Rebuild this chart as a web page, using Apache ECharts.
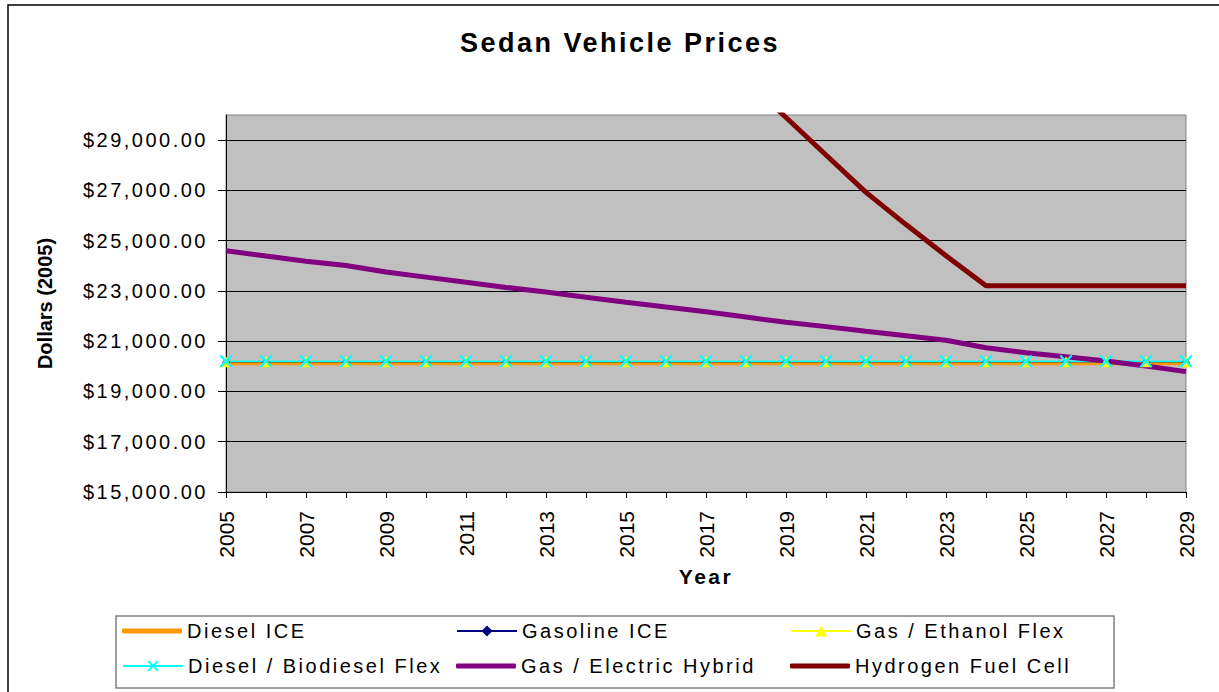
<!DOCTYPE html>
<html>
<head>
<meta charset="utf-8">
<title>Sedan Vehicle Prices</title>
<script src="https://cdn.jsdelivr.net/npm/echarts@6/dist/echarts.min.js"></script>
<style>
  html, body { margin: 0; padding: 0; background: #fff; }
  #chart { width: 1219px; height: 692px; }
  /* excel spreads the horizontal text out a bit, rotated text not */
  #chart text { letter-spacing: 2.5px; }
  #chart text[transform^="matrix"] { letter-spacing: 0; }
</style>
</head>
<body>
<div id="chart"></div>
<script>
const years = ['2005', '2006', '2007', '2008', '2009', '2010', '2011', '2012', '2013', '2014', '2015', '2016',
  '2017', '2018', '2019', '2020', '2021', '2022', '2023', '2024', '2025', '2026', '2027', '2028', '2029']
const yTicks = [15000, 17000, 19000, 21000, 23000, 25000, 27000, 29000]

const dieselIce = [20120, 20120, 20120, 20120, 20120, 20120, 20120, 20120, 20120, 20120, 20120, 20120, 20120,
  20120, 20120, 20120, 20120, 20120, 20120, 20120, 20120, 20120, 20120, 20120, 20120]
const gasolineIce = [20160, 20160, 20160, 20160, 20160, 20160, 20160, 20160, 20160, 20160, 20160, 20160, 20160,
  20160, 20160, 20160, 20160, 20160, 20160, 20160, 20160, 20160, 20160, 20160, 20160]
const ethanolFlex = [20180, 20180, 20180, 20180, 20180, 20180, 20180, 20180, 20180, 20180, 20180, 20180, 20180,
  20180, 20180, 20180, 20180, 20180, 20180, 20180, 20180, 20180, 20180, 20180, 20180]
const biodieselFlex = [20200, 20200, 20200, 20200, 20200, 20200, 20200, 20200, 20200, 20200, 20200, 20200, 20200,
  20200, 20200, 20200, 20200, 20200, 20200, 20200, 20200, 20200, 20200, 20200, 20200]
const electricHybrid = [24600, 24390, 24185, 24010, 23750, 23550, 23345, 23140, 22960, 22750, 22550, 22360, 22175,
  21960, 21750, 21580, 21395, 21220, 21040, 20740, 20540, 20385, 20210, 20010, 19790]
// fuel cell is above the chart top until 2019
const fuelCell = [null, null, null, null, null, null, null, null, null, null, null, null, null,
  31400, 29900, 28410, 26920, 25640, 24400, 23210, 23210, 23210, 23210, 23210, 23210]

const font = 'Liberation Sans, Arial, sans-serif'
const xMark = 'path://M0,1.2 L1.2,0 L5,3.8 L8.8,0 L10,1.2 L6.2,5 L10,8.8 L8.8,10 L5,6.2 L1.2,10 L0,8.8 L3.8,5 Z'

let chart = echarts.init(document.getElementById('chart'), null, { renderer: 'svg' })

const money = (v) => '$' + v.toLocaleString('en-US', { minimumFractionDigits: 2, maximumFractionDigits: 2 })

const series = [
  { name: 'Diesel ICE', data: dieselIce, color: '#ff9900', width: 4, symbol: 'none' },
  { name: 'Gasoline ICE', data: gasolineIce, color: '#000080', width: 1.2, symbol: 'diamond', size: 8 },
  { name: 'Gas / Ethanol Flex', data: ethanolFlex, color: '#ffff00', width: 1.2, symbol: 'triangle', size: 11 },
  { name: 'Diesel / Biodiesel Flex', data: biodieselFlex, color: '#00ffff', width: 1.5, symbol: xMark, size: 13 },
  { name: 'Gas / Electric Hybrid', data: electricHybrid, color: '#800080', width: 5, symbol: 'none' },
  { name: 'Hydrogen Fuel Cell', data: fuelCell, color: '#800000', width: 5, symbol: 'none' }
]

const legendCols = [122, 456, 790]
const legendRows = [621, 656]

let options = {
  animation: false,
  backgroundColor: '#fff',
  title: {
    text: 'Sedan Vehicle Prices',
    left: 615,
    top: 24,
    textAlign: 'center',
    textStyle: { fontFamily: font, fontSize: 27, fontWeight: 'bold', color: '#000' }
  },
  graphic: [
    {
      type: 'rect',
      silent: true,
      shape: { x: 8, y: 5, width: 1300, height: 760 },
      style: { fill: 'none', stroke: '#000', lineWidth: 1.5 }
    },
    {
      type: 'rect',
      silent: true,
      shape: { x: 116, y: 616, width: 998, height: 72 },
      style: { fill: '#fff', stroke: '#808080', lineWidth: 1.5 }
    }
  ],
  legend: series.map((s, i) => {
    const plain = s.symbol === 'none'
    return {
      data: [plain ? { name: s.name, icon: 'roundRect' } : s.name],
      left: legendCols[i % 3],
      top: legendRows[Math.floor(i / 3)],
      padding: 0,
      itemWidth: 60,
      itemHeight: plain ? 5 : 14,
      selectedMode: false,
      textStyle: { fontFamily: font, fontSize: 20, color: '#000' }
    }
  }),
  grid: {
    show: true,
    left: 226,
    right: 33,
    top: 115,
    bottom: 200,
    backgroundColor: '#c0c0c0',
    borderColor: '#808080',
    borderWidth: 1
  },
  xAxis: {
    type: 'category',
    data: years,
    boundaryGap: false,
    name: 'Year',
    nameLocation: 'middle',
    nameGap: 74,
    nameTextStyle: { fontFamily: font, fontSize: 21, fontWeight: 'bold', color: '#000' },
    axisLine: { lineStyle: { color: '#000', width: 1 } },
    axisTick: { show: true, interval: 0, length: 6, lineStyle: { color: '#000' } },
    axisLabel: { interval: 1, rotate: 90, margin: 19, fontFamily: font, fontSize: 21, color: '#000' },
    splitLine: { show: false }
  },
  yAxis: {
    type: 'value',
    min: 15000,
    max: 30000,
    interval: 2000,
    name: 'Dollars (2005)',
    nameLocation: 'middle',
    nameGap: 171,
    nameTextStyle: { fontFamily: font, fontSize: 20, fontWeight: 'bold', color: '#000' },
    axisLine: { show: true, lineStyle: { color: '#000', width: 1 } },
    axisTick: { show: true, length: 8, customValues: yTicks, lineStyle: { color: '#000' } },
    axisLabel: {
      customValues: yTicks,
      margin: 18,
      fontFamily: font,
      fontSize: 20,
      color: '#000',
      formatter: money
    },
    splitLine: { show: true, lineStyle: { color: '#000', width: 1 } }
  },
  series: series.map((s) => ({
    name: s.name,
    type: 'line',
    data: s.data,
    symbol: s.symbol,
    symbolSize: s.size || 0,
    showAllSymbol: true,
    connectNulls: false,
    color: s.color,
    lineStyle: { color: s.color, width: s.width },
    itemStyle: { color: s.color }
  }))
}

chart.setOption(options)
</script>
</body>
</html>
